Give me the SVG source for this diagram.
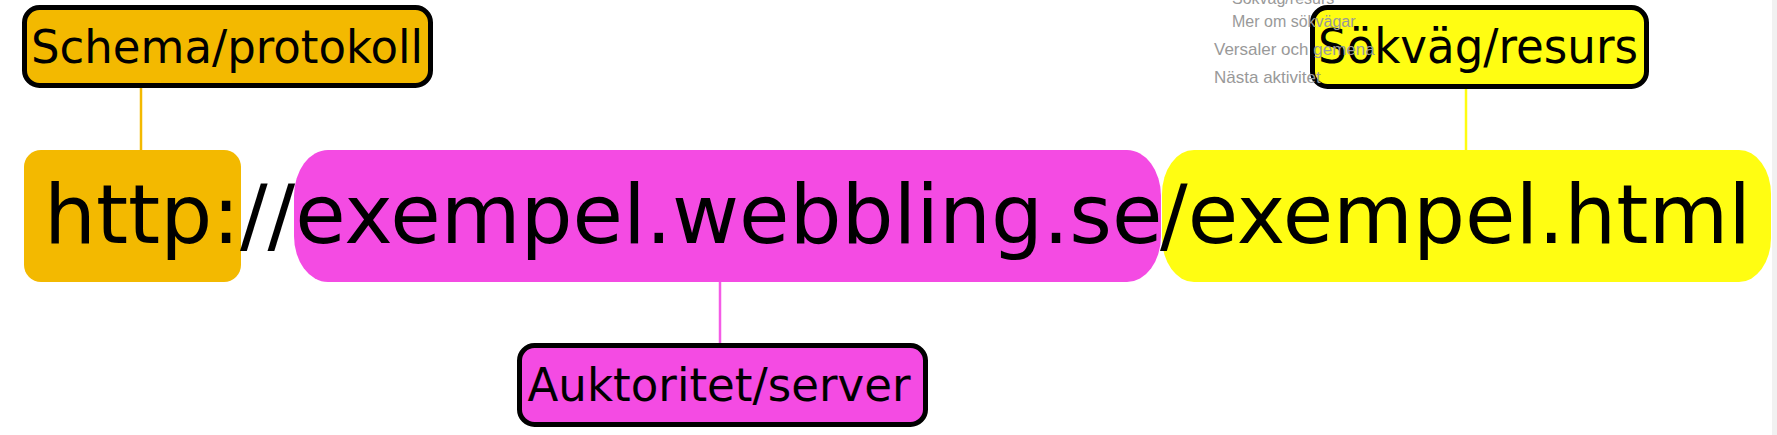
<svg xmlns="http://www.w3.org/2000/svg" width="1777" height="435" viewBox="0 0 1777 435">
  <style>
    .bg { font-family: "Liberation Sans", Arial, sans-serif; fill: #999999; }
    .part { stroke: none; }
    .label rect { stroke: #000000; stroke-width: 5; }
    .label text, .main { font-family: "DejaVu Sans", Verdana, sans-serif; fill: #000000; }
    .label text { font-size: 46px; text-anchor: middle; }
    .main { font-size: 82px; }
    .conn { stroke-width: 2.5; fill: none; }
    .orange { fill: #F3B900; }
    .pink { fill: #F44BE3; }
    .yellow { fill: #FFFD12; }
  </style>
  <rect x="0" y="0" width="1777" height="435" fill="#ffffff"/>
  <rect x="1772" y="0" width="5" height="435" fill="#f1f1f1"/>

  <g id="connectors">
    <line class="conn" x1="141" y1="88" x2="141" y2="151" stroke="#F3B900"/>
    <line class="conn" x1="720" y1="281" x2="720" y2="343" stroke="#F45BE6"/>
    <line class="conn" x1="1466" y1="88" x2="1466" y2="151" stroke="#FFFD12"/>
  </g>

  <g id="scheme-part">
    <rect class="part orange" x="24" y="150" width="217" height="132" rx="17" ry="17"/>
  </g>
  <g id="authority-part">
    <rect class="part pink" x="294" y="150" width="867" height="132" rx="34" ry="46"/>
  </g>
  <g id="path-part">
    <rect class="part yellow" x="1162" y="150" width="609" height="132" rx="32" ry="44"/>
  </g>

  <g id="url-text">
    <text class="main" x="44" y="243">http://exempel.webbling.se</text>
    <text class="main" x="1160" y="243">/exempel.html</text>
  </g>

  <g id="label-schema" class="label">
    <rect class="orange" x="24.5" y="7.5" width="406" height="78" rx="15" ry="15"/>
    <text x="227" y="63" textLength="392" lengthAdjust="spacingAndGlyphs">Schema/protokoll</text>
  </g>
  <g id="label-path" class="label">
    <rect class="yellow" x="1312.5" y="7.5" width="334" height="79" rx="15" ry="15"/>
    <text x="1478" y="63" font-size="48" textLength="320" lengthAdjust="spacingAndGlyphs" style="font-size:48px">Sökväg/resurs</text>
  </g>
  <g id="label-authority" class="label">
    <rect class="pink" x="519.5" y="345.5" width="406" height="79" rx="15" ry="15"/>
    <text x="719" y="401" textLength="383" lengthAdjust="spacingAndGlyphs">Auktoritet/server</text>
  </g>

  <g id="background-menu" class="bg">
    <text x="1232" y="4" font-size="16">Sökväg/resurs</text>
    <text x="1232" y="27" font-size="16">Mer om sökvägar</text>
    <text x="1214" y="55" font-size="17">Versaler och gemena</text>
    <text x="1214" y="83" font-size="17">Nästa aktivitet</text>
  </g>
</svg>
